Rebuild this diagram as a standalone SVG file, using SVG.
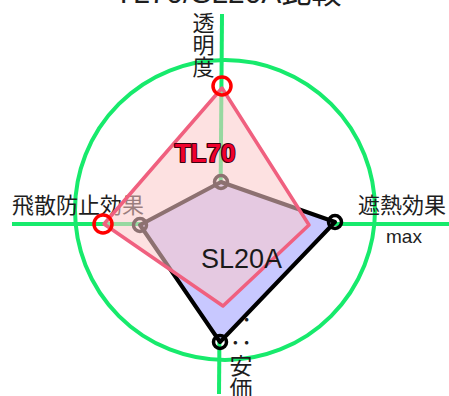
<svg xmlns="http://www.w3.org/2000/svg" width="449" height="396" viewBox="0 0 449 396">
<style>
.g{stroke:#17ea6c;stroke-width:4;fill:none}
.lbl{font-family:"Noto Sans CJK JP","Noto Sans",sans-serif;font-size:22px;fill:#1e1e1e}
.v{writing-mode:vertical-rl}
.mk{fill:none;stroke-width:3.5}
</style>
<rect width="449" height="396" fill="#ffffff"/>
<g id="title"><text x="228" y="3" text-anchor="middle" style="font-family:'Liberation Sans','Noto Sans CJK JP',sans-serif;font-size:30px;fill:#1e1e1e">TL70/SL20A比較</text></g>
<g id="connectors">
<circle class="g" cx="225" cy="210" r="150"/>
<line class="g" x1="222" y1="14" x2="219" y2="394"/>
<line class="g" x1="12" y1="224" x2="449" y2="224"/>
</g>
<g id="axis-top"><text class="lbl v" x="203.5" y="12">透明度</text></g>
<g id="axis-left"><text class="lbl" x="12" y="213">飛散防止効果</text></g>
<g id="axis-right"><text class="lbl" x="358" y="213">遮熱効果</text>
<text x="404" y="243" text-anchor="middle" style="font-family:'Liberation Sans',sans-serif;font-size:19px;fill:#1e1e1e">max</text></g>
<g id="axis-bottom"><text class="lbl v" x="241" y="308" style="font-size:23px">：：安価</text></g>
<g id="SL20A">
<polygon points="221,182 335,222 220,342 140,225" fill="#c8c8ff" stroke="#000" stroke-width="4" stroke-linejoin="round"/>
<circle class="mk" cx="221" cy="182" r="6.5" stroke="#000"/>
<circle class="mk" cx="140" cy="225" r="6.5" stroke="#000"/>
<circle class="mk" cx="335" cy="222" r="6.5" stroke="#000"/>
<circle class="mk" cx="220" cy="342" r="6.5" stroke="#000"/>
</g>
<g id="TL70">
<polygon points="222,88 309,225 223,306 104,224" fill="#fbc9c9" fill-opacity="0.56" stroke="#f0607f" stroke-width="3.5" stroke-linejoin="round"/>
<circle class="mk" cx="222" cy="86" r="9" stroke="#ff0000"/>
<circle class="mk" cx="103" cy="224" r="9" stroke="#ff0000"/>
</g>
<g id="series-labels">
<text x="241.5" y="268" text-anchor="middle" style="font-family:'Liberation Sans',sans-serif;font-size:27px;fill:#1a1a1a">SL20A</text>
<text x="205" y="162" text-anchor="middle" style="font-family:'Liberation Sans',sans-serif;font-size:26px;font-weight:bold;fill:#f0002c;stroke:#3a0010;stroke-width:2.2px;paint-order:stroke;stroke-linejoin:round">TL70</text>
</g>
</svg>
